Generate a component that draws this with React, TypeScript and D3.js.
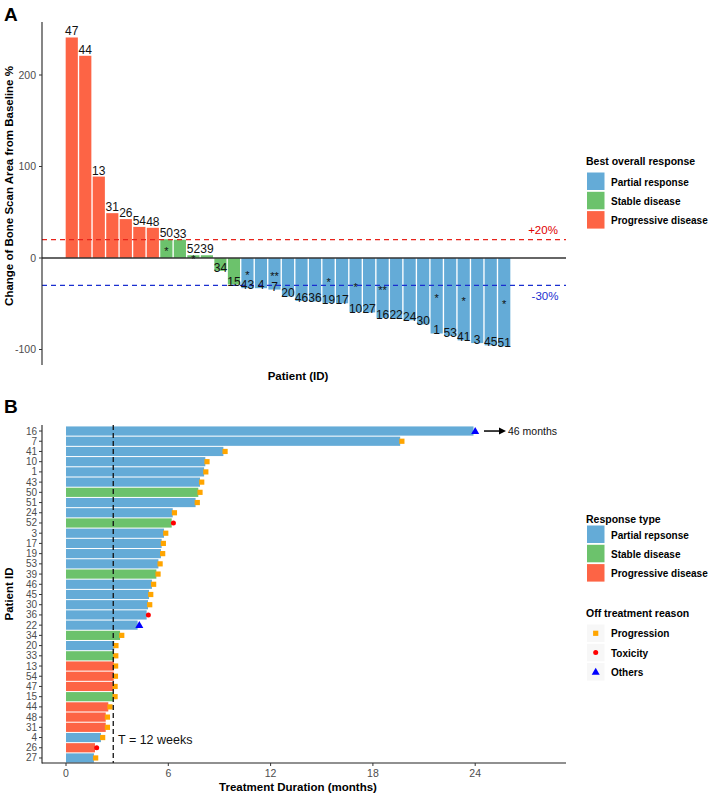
import React from "react";
import * as d3 from "d3";

// ---- panel A data (waterfall) ----
const patientsA = ["47","44","13","31","26","54","48","50","33","52","39","34","15","43","4","7","20","46","36","19","17","10","27","16","22","24","30","1","53","41","3","45","51"];
const changeA = [241,221,89,49,42.5,34,33,20.5,20,3,3,-14,-29,-33,-33,-34.5,-42,-47,-47.5,-49,-49.5,-59,-59.5,-65.5,-66,-68,-72.5,-82.5,-85,-90,-93,-95.5,-96.5];
const responseA = ["PD","PD","PD","PD","PD","PD","PD","SD","SD","SD","SD","SD","SD","PR","PR","PR","PR","PR","PR","PR","PR","PR","PR","PR","PR","PR","PR","PR","PR","PR","PR","PR","PR"];
const starsA = ["","","","","","","","*","","*","","","","*","","**","","","","*","","*","","**","","","","*","","*","","","*"];
const yTicksA = [-100, 0, 100, 200];

// ---- panel B data (swimmer) ----
const patientsB = ["16","7","41","10","1","43","50","51","24","52","3","17","19","53","39","46","45","30","36","22","34","20","33","13","54","47","15","44","48","31","4","26","27"];
const durationB = [23.9,19.6,9.23,8.17,8.1,7.86,7.76,7.6,6.26,6.2,5.75,5.61,5.57,5.42,5.3,5.04,4.87,4.81,4.73,4.2,3.17,2.83,2.82,2.81,2.8,2.78,2.78,2.48,2.33,2.33,2.05,1.7,1.64];
const responseB = ["PR","PR","PR","PR","PR","PR","SD","PR","PR","SD","PR","PR","PR","PR","SD","PR","PR","PR","PR","PR","SD","PR","SD","PD","PD","PD","SD","PD","PD","PD","PR","PD","PR"];
const reasonB = ["O","P","P","P","P","P","P","P","P","T","P","P","P","P","P","P","P","P","T","O","P","P","P","P","P","P","P","P","P","P","P","T","P"];
const xTicksB = [0, 6, 12, 18, 24];

const colors: Record<string, string> = { PR: "#64ABD7", SD: "#6CC26C", PD: "#FD6445" };
const font = "'Liberation Sans', Arial, Helvetica, sans-serif";
const grey = "#4D4D4D";

export default function App() {
  // panel A scales
  const xA = d3.scaleBand<string>().domain(patientsA).range([65, 511]).paddingInner(0.1).paddingOuter(0.05);
  const yA = d3.scaleLinear().domain([0, 100]).range([258, 166.5]);
  // panel B scales
  const yB = d3.scaleBand<string>().domain(patientsB).range([425, 764]).paddingInner(0.1).paddingOuter(0.14);
  const xB = d3.scaleLinear().domain([0, 24]).range([66, 475.2]);
  const tri = d3.symbol().type(d3.symbolTriangle).size(28)() as string;

  const legendA = [["PR", "Partial response"], ["SD", "Stable disease"], ["PD", "Progressive disease"]];
  const legendB = [["PR", "Partial repsonse"], ["SD", "Stable disease"], ["PD", "Progressive disease"]];
  const legendR = [["P", "Progression"], ["T", "Toxicity"], ["O", "Others"]];

  const marker = (r: string, x: number, y: number, key: string) => {
    if (r === "P") return <rect key={key} x={x - 2.6} y={y - 2.6} width={5.2} height={5.2} fill="#FFA500" />;
    if (r === "T") return <circle key={key} cx={x} cy={y} r={2.5} fill="#FF0000" />;
    return <path key={key} d={tri} transform={`translate(${x},${y + 0.6})`} fill="#0000FF" />;
  };

  const rowY = (p: string) => yB(p)! + yB.bandwidth() / 2;

  return (
    <svg width={709} height={796} style={{ position: "absolute", left: 0, top: 0, background: "#fff" }} fontFamily={font}>
      {/* ===== Panel A ===== */}
      <text x={4} y={21} fontSize={19} fontWeight="bold">A</text>
      {patientsA.map((p, i) => {
        const v = changeA[i];
        return (
          <rect key={p} x={xA(p)!} y={Math.min(yA(v), yA(0))} width={xA.bandwidth()} height={Math.abs(yA(v) - yA(0))} fill={colors[responseA[i]]} />
        );
      })}
      {/* thresholds */}
      <line x1={42} x2={566} y1={yA(20)} y2={yA(20)} stroke="#E8231B" strokeWidth={1.3} strokeDasharray="5,4" />
      <text x={543} y={yA(20) - 6} fontSize={11.5} fill="#E00000" textAnchor="middle">+20%</text>
      <line x1={42} x2={566} y1={yA(0)} y2={yA(0)} stroke="#333" strokeWidth={1.4} />
      <line x1={42} x2={566} y1={yA(-30)} y2={yA(-30)} stroke="#1A2FD0" strokeWidth={1.3} strokeDasharray="5,4" />
      <text x={545} y={yA(-30) + 15} fontSize={11.5} fill="#1A2FD0" textAnchor="middle">-30%</text>
      {patientsA.map((p, i) => {
        const v = changeA[i];
        const cx = xA(p)! + xA.bandwidth() / 2;
        return (
          <g key={"l" + p}>
            <text x={cx} y={v >= 0 ? yA(v) - 2 : yA(v) + 1} fontSize={12} textAnchor="middle" fill="#111">{p}</text>
            {starsA[i] && <text x={cx} y={yA(v / 2) + 6} fontSize={11} textAnchor="middle" fill="#111">{starsA[i]}</text>}
          </g>
        );
      })}
      {/* y axis A */}
      <line x1={42} x2={42} y1={22} y2={365} stroke="#222" strokeWidth={1.1} />
      {yTicksA.map(t => (
        <g key={t}>
          <line x1={39} x2={42} y1={yA(t)} y2={yA(t)} stroke="#333" />
          <text x={36} y={yA(t) + 3.7} fontSize={10.5} fill={grey} textAnchor="end">{t}</text>
        </g>
      ))}
      <text transform={`translate(13,186) rotate(-90)`} fontSize={11.5} fontWeight="bold" textAnchor="middle">Change of Bone Scan Area from Baseline %</text>
      <text x={298} y={380} fontSize={11.5} fontWeight="bold" textAnchor="middle">Patient (ID)</text>

      {/* legend A */}
      <text x={586} y={165} fontSize={10.5} fontWeight="bold">Best overall response</text>
      {legendA.map(([k, label], i) => (
        <g key={k}>
          <rect x={587} y={172.5 + i * 19.3} width={17.5} height={17.5} fill={colors[k]} />
          <text x={611} y={185.5 + i * 19.3} fontSize={10} fontWeight="bold">{label}</text>
        </g>
      ))}

      {/* ===== Panel B ===== */}
      <text x={4} y={413} fontSize={19} fontWeight="bold">B</text>
      {patientsB.map((p, i) => (
        <rect key={p} x={xB(0)} y={yB(p)!} width={xB(durationB[i]) - xB(0)} height={yB.bandwidth()} fill={colors[responseB[i]]} />
      ))}
      {patientsB.map((p, i) => marker(reasonB[i], xB(durationB[i] + 0.1), rowY(p), "m" + p))}
      <line x1={xB(12 / 4.33)} x2={xB(12 / 4.33)} y1={425} y2={763} stroke="#111" strokeWidth={1.3} strokeDasharray="5,3" />
      <text x={118} y={744} fontSize={12.5} fill="#111">T = 12 weeks</text>
      {/* arrow */}
      <line x1={484} x2={500} y1={rowY("16")} y2={rowY("16")} stroke="#000" strokeWidth={1.5} />
      <path d={`M506,${rowY("16")} l-7,-3.5 l0,7 z`} fill="#000" />
      <text x={508} y={rowY("16") + 3.8} fontSize={10.5} fill="#111">46 months</text>
      {/* axes B */}
      <line x1={42} x2={42} y1={425} y2={763.5} stroke="#222" strokeWidth={1.1} />
      <line x1={42} x2={566} y1={763} y2={763} stroke="#222" strokeWidth={1.1} />
      {patientsB.map(p => (
        <g key={"t" + p}>
          <line x1={39} x2={42} y1={rowY(p)} y2={rowY(p)} stroke="#333" />
          <text x={37} y={rowY(p) + 3.5} fontSize={10} fill={grey} textAnchor="end">{p}</text>
        </g>
      ))}
      {xTicksB.map(t => (
        <g key={"x" + t}>
          <line x1={xB(t)} x2={xB(t)} y1={763} y2={766} stroke="#333" />
          <text x={xB(t)} y={777} fontSize={10.5} fill={grey} textAnchor="middle">{t}</text>
        </g>
      ))}
      <text transform={`translate(13,594) rotate(-90)`} fontSize={11.5} fontWeight="bold" textAnchor="middle">Patient ID</text>
      <text x={298} y={791} fontSize={11.5} fontWeight="bold" textAnchor="middle">Treatment Duration (months)</text>

      {/* legend B */}
      <text x={586} y={523} fontSize={10.5} fontWeight="bold">Response type</text>
      {legendB.map(([k, label], i) => (
        <g key={"lb" + k}>
          <rect x={587} y={525.5 + i * 19.3} width={17.5} height={17.5} fill={colors[k]} />
          <text x={611} y={538.5 + i * 19.3} fontSize={10} fontWeight="bold">{label}</text>
        </g>
      ))}
      <text x={586} y={617} fontSize={10.5} fontWeight="bold">Off treatment reason</text>
      {legendR.map(([k, label], i) => (
        <g key={"lr" + k}>
          <rect x={587} y={624.5 + i * 19.3} width={17.5} height={17.5} fill="#F7F7F7" />
          {marker(k, 595.7, 633.3 + i * 19.3, "lm" + k)}
          <text x={611} y={637.3 + i * 19.3} fontSize={10} fontWeight="bold">{label}</text>
        </g>
      ))}
    </svg>
  );
}
